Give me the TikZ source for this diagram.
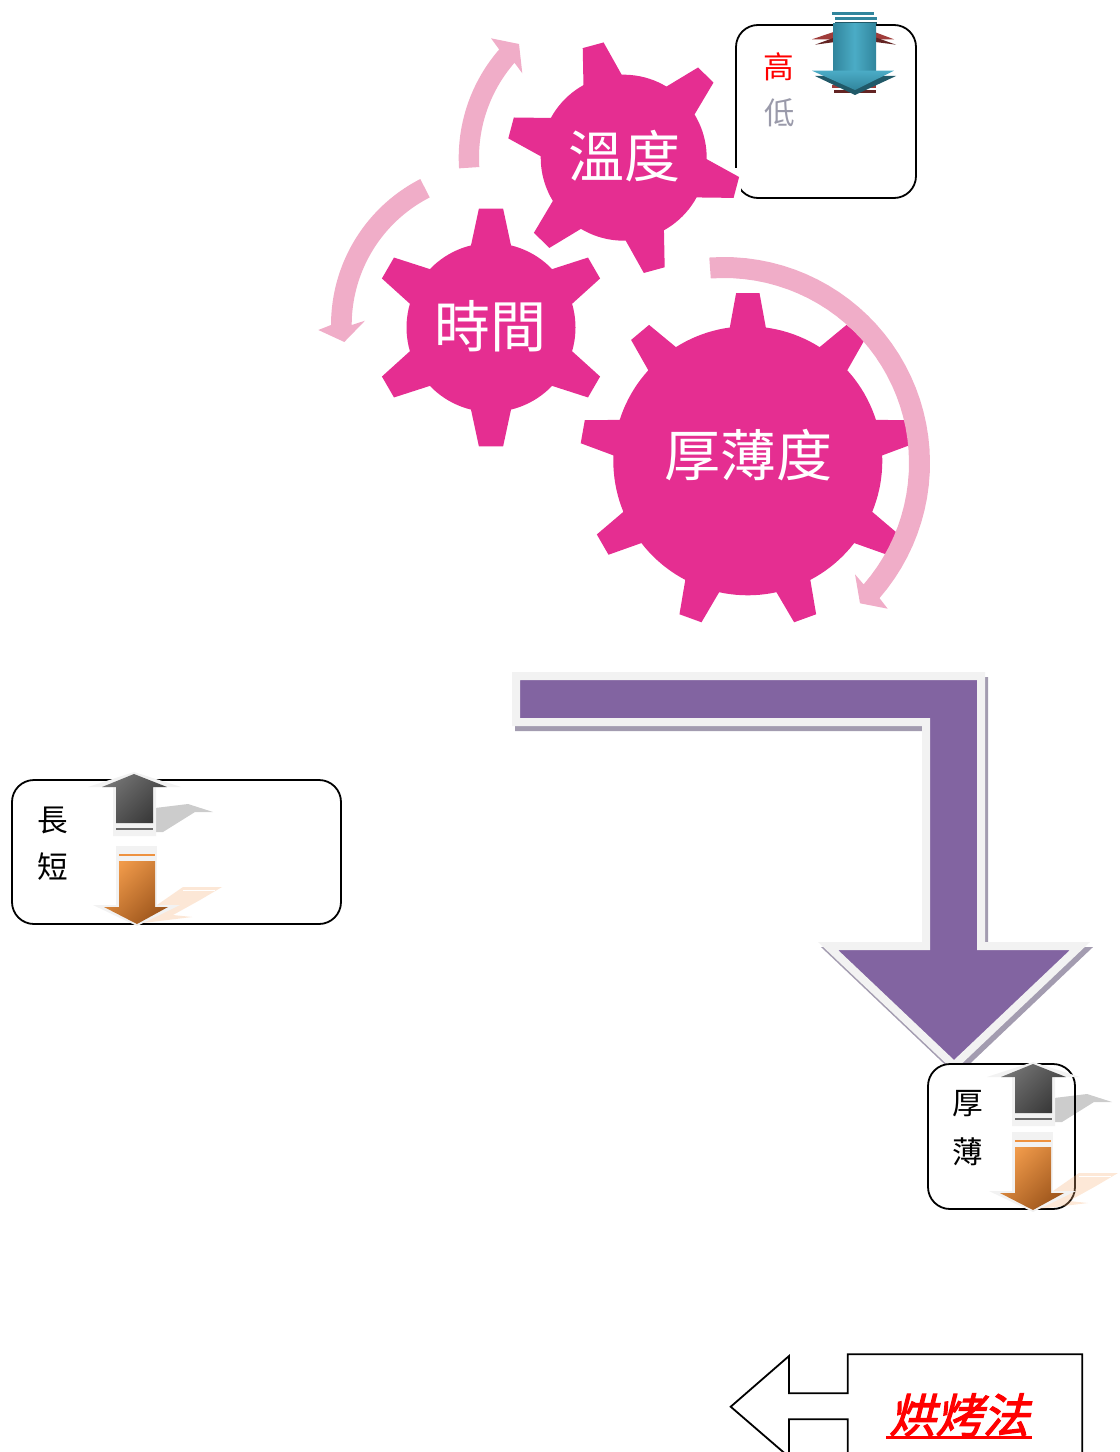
\documentclass[tikz,border=0pt]{standalone}
\usepackage{fontspec}
\newfontfamily\cjk{Noto Sans CJK TC}
\newfontfamily\cjkbi[FakeSlant=0.25,FakeBold=2.5]{Noto Sans CJK TC}
\definecolor{gearpink}{HTML}{E52E91}
\definecolor{arcpink}{HTML}{F0ADC8}
\definecolor{bentpurple}{HTML}{8264A1}
\definecolor{bentedge}{HTML}{F2F2F2}
\definecolor{bentshadow}{HTML}{A39CB0}
\definecolor{orangetop}{HTML}{F09A4A}
\definecolor{orangebot}{HTML}{9E561C}
\definecolor{orangeline}{HTML}{EE9240}
\definecolor{orangeshadow}{HTML}{F7B27A}
\definecolor{bluemid}{HTML}{4BACC6}
\definecolor{blueedge}{HTML}{31859C}
\definecolor{bluedark}{HTML}{215968}
\definecolor{redlight}{HTML}{A03C3A}
\definecolor{reddark}{HTML}{632423}
\definecolor{lowgray}{HTML}{9A9AAA}
\tikzset{
  infobox/.style={draw=black,line width=1.35pt,rounded corners=16.5pt,fill=white,inner sep=0pt},
  geartext/.style={text=white,font=\cjk\fontsize{42pt}{42pt}\selectfont,inner sep=0pt},
  boxtext/.style={font=\cjk\fontsize{23pt}{23pt}\selectfont,inner sep=0pt},
  arrowedge/.style={fill=bentedge}
}
% cx cy teeth rot rtip rbase atip abase
\newcommand{\gearshape}[8]{%
  \fill[gearpink] ({#1+#6*cos(#4-90-#8)},{#2+#6*sin(#4-90-#8)})
  \foreach \i [evaluate=\i as \c using #4-90+(\i-1)*360/#3] in {1,...,#3}{
    -- ({#1+#5*cos(\c-#7)},{#2+#5*sin(\c-#7)})
    -- ({#1+#5*cos(\c+#7)},{#2+#5*sin(\c+#7)})
    -- ({#1+#6*cos(\c+#8)},{#2+#6*sin(\c+#8)})
    \foreach \j in {1,...,10}{
      -- ({#1+#6*cos(\c+#8+\j/10*(360/#3-2*#8))},{#2+#6*sin(\c+#8+\j/10*(360/#3-2*#8))})
    }
  } -- cycle;
}
% cx cy rin rout a0 a1 head
\newcommand{\curvedarrow}[7]{%
  \fill[arcpink] plot[domain=#5:#6,samples=40] ({#1+#4*cos(\x)},{#2+#4*sin(\x)})
    -- #7
    -- plot[domain=#6:#5,samples=40] ({#1+#3*cos(\x)},{#2+#3*sin(\x)}) -- cycle;
}
\newcommand{\grayarrow}[2]{%
  \begin{scope}[shift={(#1,#2)}]
    \fill[black,opacity=0.2] (155,808) -- (188,804) -- (213,812) -- (195,812) -- (163,832) -- (155,832) -- cycle;
    \fill[arrowedge] (88,787) -- (134,772) -- (181,787) -- (156,787) -- (156,836) -- (113,836) -- (113,787) -- cycle;
    \shade[top color=black!55,bottom color=black!78,shading angle=45]
      (102,787) -- (134,774) -- (167,787) -- (153,787) -- (153,823) -- (116,823) -- (116,787) -- cycle;
    \fill[black!58] (116,828) rectangle (153,830);
  \end{scope}
}
\newcommand{\orangearrow}[2]{%
  \begin{scope}[shift={(#1,#2)}]
    \fill[orangeshadow,opacity=0.3] (157,905) -- (183,887) -- (222,887) -- (200,900) -- (173,915) -- (192,917) -- (143,923) -- cycle;
    \fill[white] (183,890) rectangle (215,891);
    \fill[arrowedge] (116,846) rectangle (157,907);
    \fill[arrowedge] (93,905) -- (180,905) -- (137,926) -- cycle;
    \fill[orangeline] (119,854) rectangle (155,856);
    \shade[top color=orangetop,bottom color=orangebot,shading angle=45]
      (119,861) -- (155,861) -- (155,907) -- (168,907) -- (137,924) -- (104,907) -- (119,907) -- cycle;
  \end{scope}
}
\begin{document}
\begin{tikzpicture}[x=0.75pt,y=-0.75pt]
\clip (0,0) rectangle (1120,1452);

% bent arrow
\begin{scope}[shift={(3,5)}]
  \draw[bentshadow,fill=bentshadow,line width=6pt,miter limit=3]
    (516,676) -- (981,676) -- (981,946) -- (1080,946) -- (954,1065.5) -- (828,946) -- (926,946) -- (926,722) -- (516,722) -- cycle;
\end{scope}
\draw[bentedge,fill=bentpurple,line width=6pt,miter limit=3]
  (516,676) -- (981,676) -- (981,946) -- (1080,946) -- (954,1065.5) -- (828,946) -- (926,946) -- (926,722) -- (516,722) -- cycle;

% info boxes
\node[infobox,minimum width=135pt,minimum height=129.75pt] (boxtemp) at (826,111.5) {};
\fill[white] (731,168) rectangle (741,199);
\node[infobox,minimum width=246.75pt,minimum height=108pt] (boxtime) at (176.5,852) {};
\node[infobox,minimum width=110.25pt,minimum height=108.75pt] (boxthick) at (1001.5,1136.5) {};

% gears
\gearshape{491}{327.5}{6}{0}{119.6}{84.5}{5.8}{13.7}
\gearshape{623.7}{157.7}{6}{-15.2}{117}{83}{5.3}{13.8}
\gearshape{747.8}{460.8}{9}{0}{168}{134.5}{4}{7.7}
\node[geartext] (gtemp) at (624,156) {溫度};
\node[geartext] (gtime) at (490,326) {時間};
\node[geartext] (gthick) at (748,455.5) {厚薄度};

% curved arrows
\curvedarrow{623.7}{157.7}{144.7}{165}{176.3}{221}{(491,38.3) -- (519,44) -- (522.3,73.3)}
\curvedarrow{495}{325}{143.3}{164}{242.9}{180}{(318.3,330) -- (344.3,342) -- (365,320.7)}
\curvedarrow{724}{463}{185}{206}{265.9}{401}{(887.7,608.7) -- (860,603.3) -- (855,574.3)}

% blue/red arrow
\fill[redlight] (812,39.3) -- (855,24.7) -- (894,39.3) -- cycle;
\fill[reddark] (815,44.7) -- (855,30) -- (896,44.7) -- (855,39.3) -- cycle;
\fill[redlight] (832,85) rectangle (876,88.3);
\fill[reddark] (834,90) rectangle (876,92.7);
\fill[blueedge] (832,12) rectangle (874,15);
\fill[blueedge] (835,17) rectangle (877,20);
\fill[bluedark] (835,22) rectangle (877,24);
\shade[left color=blueedge,right color=blueedge,middle color=bluemid] (833,24) rectangle (876,71);
\fill[bluedark] (815,76) -- (896,76) -- (855,95) -- cycle;
\shade[top color=bluemid,bottom color=blueedge] (812,70.7) -- (894,70.7) -- (855,90) -- cycle;

% small arrows
\grayarrow{0}{0}
\orangearrow{0}{0}
\grayarrow{899}{290}
\orangearrow{896}{286}

% box labels
\node[boxtext,text=red] (thigh) at (779,67) {高};
\node[boxtext,text=lowgray] (tlow) at (780,113) {低};
\node[boxtext] (tlong) at (53,820) {長};
\node[boxtext] (tshort) at (53,867) {短};
\node[boxtext] (tthick) at (968,1104) {厚};
\node[boxtext] (tthin) at (968,1152) {薄};

% callout
\draw[black,line width=1.35pt,line join=miter]
  (730.7,1406.7) -- (789,1356) -- (789,1393.3) -- (847.7,1393.3) -- (847.7,1354.3) -- (1082.3,1354.3)
  -- (1082.3,1470) -- (847.7,1470) -- (847.7,1419.3) -- (789,1419.3) -- (789,1457) -- cycle;
\node[inner sep=0pt,text=red,font=\cjkbi\fontsize{35pt}{35pt}\selectfont,minimum width=109pt,minimum height=33pt] (bake) at (959,1415) {烘烤法};
\draw[red,line width=2.2pt] (bake.south west) -- (bake.south east);
\end{tikzpicture}
\end{document}
